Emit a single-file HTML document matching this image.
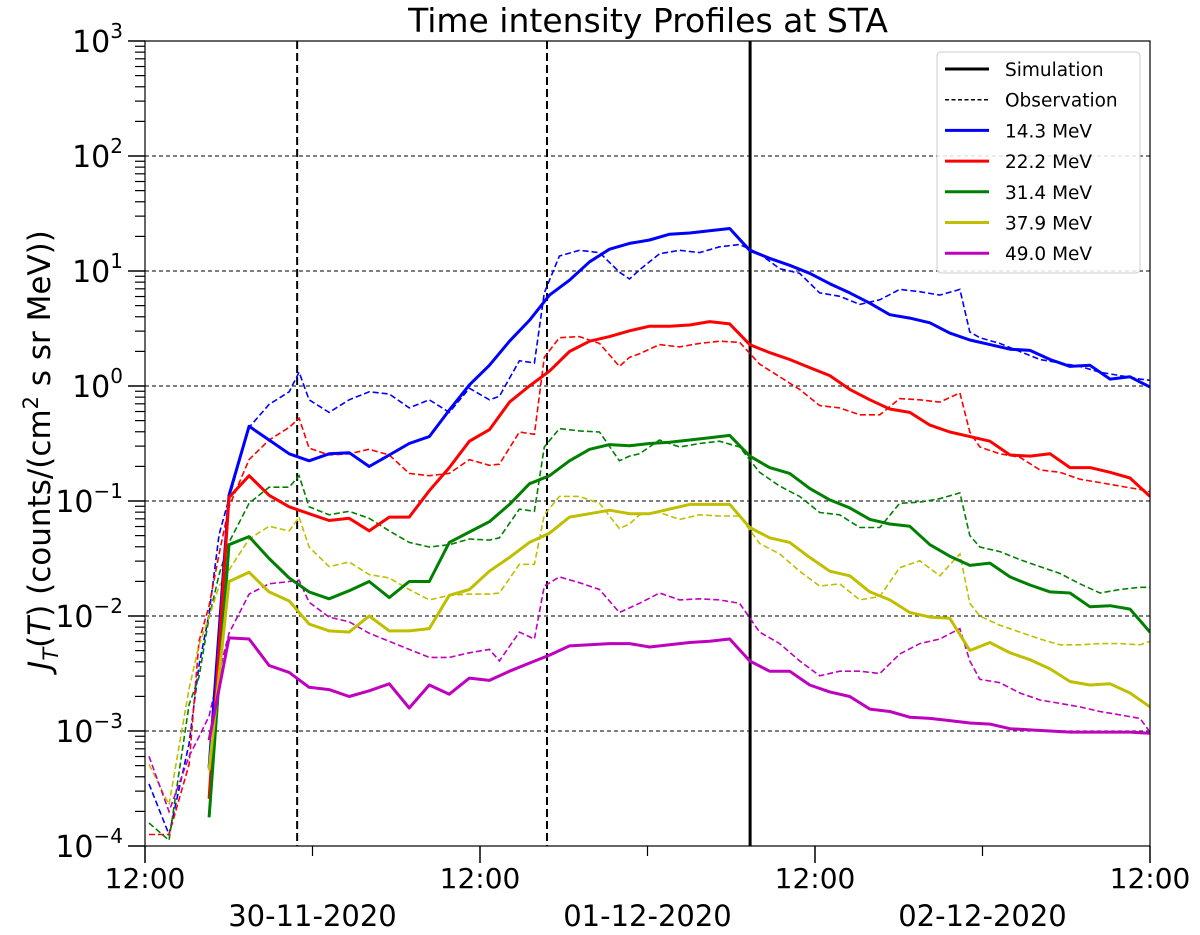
<!DOCTYPE html>
<html><head><meta charset="utf-8"><style>
html,body{margin:0;padding:0;background:#fff;}
svg{display:block;font-family:"DejaVu Sans","Liberation Sans",sans-serif;}
</style></head><body>
<svg id="chart" width="1200" height="935" viewBox="0 0 1200 935">
<defs><clipPath id="plotclip"><rect x="145" y="41" width="1005" height="805"/></clipPath></defs>
<text x="648" y="32" text-anchor="middle" font-size="33" fill="#000">Time intensity Profiles at STA</text>
<g id="grid"></g>
<g id="vlines"></g>
<g id="series" clip-path="url(#plotclip)"></g>
<rect x="145" y="41" width="1005" height="805" fill="none" stroke="#000" stroke-width="1.2"/>
<g id="yaxis"></g>
<g id="xaxis"></g>
<text transform="translate(50,450) rotate(-90)" text-anchor="middle" font-size="31" fill="#000"><tspan font-style="italic">J</tspan><tspan font-style="italic" font-size="21" dy="8">T</tspan><tspan dy="-8">(</tspan><tspan font-style="italic">T</tspan><tspan>) (counts/(cm</tspan><tspan font-size="21" dy="-12">2</tspan><tspan dy="12"> s sr MeV))</tspan></text>
<g>
<rect x="937" y="52" width="203" height="221" rx="4" fill="#fff" fill-opacity="0.85" stroke="#ccc" stroke-width="1"/>
<g id="legend-items"></g>
</g>
</svg>
<script>
// ---- data (values are log10 of J_T) ----
const simHours = [4.59,6.02,7.46,8.89,10.33,11.76,13.19,14.63,16.06,17.50,18.93,20.37,21.80,23.24,24.67,26.11,27.54,28.98,30.41,31.85,33.28,34.71,36.15,37.58,39.02,40.45,41.89,43.32,44.75,46.19,47.62,49.06,50.49,51.93,53.36,54.79,56.23,57.66,59.10,60.53,61.97,63.40,64.84,66.27,67.70,69.14,70.57,72.0];
const sim143Log10 = [-3.32,-0.95,-0.35,-0.47,-0.59,-0.65,-0.59,-0.58,-0.70,-0.60,-0.50,-0.44,-0.21,0.01,0.18,0.39,0.57,0.79,0.92,1.08,1.19,1.24,1.27,1.32,1.33,1.35,1.37,1.18,1.11,1.05,0.98,0.89,0.81,0.72,0.62,0.59,0.55,0.46,0.40,0.36,0.32,0.31,0.23,0.17,0.18,0.06,0.08,-0.01];
const sim222Log10 = [-3.59,-0.97,-0.78,-0.95,-1.05,-1.11,-1.17,-1.15,-1.26,-1.14,-1.14,-0.91,-0.71,-0.48,-0.38,-0.14,0.0,0.13,0.30,0.39,0.43,0.48,0.52,0.52,0.53,0.56,0.54,0.36,0.29,0.23,0.16,0.09,-0.03,-0.12,-0.20,-0.23,-0.34,-0.40,-0.44,-0.48,-0.60,-0.61,-0.59,-0.71,-0.71,-0.75,-0.80,-0.96];
const sim314Log10 = [-3.75,-1.38,-1.31,-1.50,-1.67,-1.79,-1.85,-1.78,-1.70,-1.84,-1.70,-1.70,-1.36,-1.27,-1.18,-1.03,-0.85,-0.78,-0.65,-0.55,-0.51,-0.52,-0.50,-0.49,-0.47,-0.45,-0.43,-0.61,-0.71,-0.76,-0.89,-0.99,-1.06,-1.16,-1.20,-1.22,-1.38,-1.48,-1.56,-1.54,-1.66,-1.73,-1.79,-1.80,-1.92,-1.91,-1.94,-2.14];
const sim379Log10 = [-3.34,-1.70,-1.62,-1.79,-1.87,-2.07,-2.13,-2.14,-2.00,-2.13,-2.13,-2.11,-1.82,-1.77,-1.61,-1.49,-1.36,-1.28,-1.14,-1.11,-1.08,-1.11,-1.11,-1.07,-1.03,-1.03,-1.03,-1.23,-1.32,-1.36,-1.49,-1.61,-1.65,-1.79,-1.86,-1.97,-2.01,-2.02,-2.30,-2.23,-2.32,-2.38,-2.46,-2.57,-2.60,-2.59,-2.67,-2.79];
const sim490Log10 = [-3.08,-2.19,-2.20,-2.43,-2.49,-2.62,-2.64,-2.70,-2.65,-2.59,-2.80,-2.60,-2.68,-2.54,-2.56,-2.48,-2.41,-2.34,-2.26,-2.25,-2.24,-2.24,-2.27,-2.25,-2.23,-2.22,-2.20,-2.39,-2.48,-2.48,-2.60,-2.66,-2.70,-2.81,-2.83,-2.88,-2.89,-2.91,-2.93,-2.94,-2.98,-2.99,-3.00,-3.01,-3.01,-3.01,-3.01,-3.02];
const obsHours = [0.29,1.72,3.16,3.87,4.59,5.31,6.02,7.46,8.89,10.33,11.04,11.76,13.19,14.63,16.06,17.50,18.93,20.37,21.80,23.24,24.67,25.39,26.82,27.90,28.61,29.69,31.12,32.56,33.99,34.71,35.43,36.86,38.30,39.73,41.16,42.60,44.03,45.47,46.90,48.34,49.77,51.20,52.64,54.07,55.51,56.94,58.38,59.09,59.81,61.24,62.68,64.11,65.55,66.98,68.42,69.85,71.28,72.0];
const obs143Log10 = [-3.46,-3.9,-3.11,-2.43,-1.98,-1.29,-0.98,-0.36,-0.16,-0.05,0.12,-0.12,-0.23,-0.12,-0.05,-0.07,-0.19,-0.12,-0.23,-0.02,-0.12,-0.09,0.22,0.20,0.81,1.13,1.18,1.16,0.99,0.93,1.01,1.15,1.18,1.16,1.21,1.23,1.15,1.02,0.98,0.81,0.78,0.71,0.75,0.84,0.82,0.79,0.84,0.47,0.42,0.37,0.30,0.23,0.20,0.17,0.12,0.09,0.06,0.05];
const obs222Log10 = [-3.9,-3.9,-3.29,-2.22,-1.91,-1.46,-1.05,-0.64,-0.47,-0.36,-0.28,-0.54,-0.60,-0.59,-0.55,-0.60,-0.76,-0.78,-0.76,-0.64,-0.69,-0.68,-0.40,-0.42,0.25,0.42,0.43,0.37,0.17,0.25,0.28,0.36,0.34,0.37,0.39,0.38,0.19,0.08,-0.03,-0.17,-0.19,-0.25,-0.25,-0.11,-0.12,-0.14,-0.06,-0.40,-0.53,-0.59,-0.62,-0.73,-0.75,-0.81,-0.84,-0.87,-0.90,-0.92];
const obs314Log10 = [-3.8,-3.95,-2.77,-2.53,-2.01,-1.64,-1.36,-1.02,-0.88,-0.88,-0.78,-1.05,-1.12,-1.09,-1.15,-1.26,-1.36,-1.40,-1.38,-1.33,-1.34,-1.32,-1.07,-1.09,-0.53,-0.37,-0.39,-0.40,-0.65,-0.61,-0.59,-0.47,-0.53,-0.50,-0.48,-0.53,-0.75,-0.87,-0.96,-1.10,-1.12,-1.23,-1.23,-1.02,-1.01,-0.98,-0.93,-1.30,-1.40,-1.44,-1.51,-1.57,-1.63,-1.72,-1.80,-1.77,-1.75,-1.75];
const obs379Log10 = [-3.29,-3.64,-2.63,-2.25,-2.01,-1.74,-1.60,-1.33,-1.22,-1.26,-1.14,-1.40,-1.57,-1.53,-1.64,-1.67,-1.77,-1.86,-1.82,-1.81,-1.81,-1.80,-1.55,-1.55,-1.12,-0.96,-0.96,-1.02,-1.24,-1.20,-1.12,-1.10,-1.16,-1.12,-1.13,-1.13,-1.37,-1.46,-1.61,-1.74,-1.72,-1.86,-1.83,-1.58,-1.52,-1.65,-1.46,-1.89,-2.00,-2.08,-2.14,-2.20,-2.25,-2.25,-2.24,-2.24,-2.25,-2.22];
const obs490Log10 = [-3.22,-3.70,-3.22,-3.05,-2.87,-2.49,-2.15,-1.81,-1.72,-1.70,-1.69,-1.88,-2.01,-2.05,-2.15,-2.22,-2.29,-2.36,-2.36,-2.32,-2.29,-2.39,-2.14,-2.20,-1.74,-1.66,-1.71,-1.77,-1.97,-1.93,-1.89,-1.80,-1.86,-1.85,-1.86,-1.89,-2.14,-2.24,-2.39,-2.52,-2.48,-2.48,-2.50,-2.33,-2.24,-2.20,-2.11,-2.39,-2.55,-2.58,-2.67,-2.73,-2.76,-2.79,-2.83,-2.86,-2.89,-3.01];
const seriesLabels = ["14.3 MeV","22.2 MeV","31.4 MeV","37.9 MeV","49.0 MeV"];
const yTickExponents = [-4,-3,-2,-1,0,1,2,3];
const xTickHours = [0,24,48,72];
const xTickLabels = ["12:00","12:00","12:00","12:00"];
const dateLabels = ["30-11-2020","01-12-2020","02-12-2020"];
const dateHours = [12,36,60];
const obsEventHours = [10.9,28.8];
const simEventHours = [43.35];

// ---- axes ----
const X0=145, X1=1150, Y0=846, Y1=41, HMAX=72, EMIN=-4, EMAX=3;
function xs(h){return X0+(h/HMAX)*(X1-X0);}
function ys(e){return Y0-(e-EMIN)/(EMAX-EMIN)*(Y0-Y1);}
const NS="http://www.w3.org/2000/svg";
function mk(tag,attrs,parent){const el=document.createElementNS(NS,tag);for(const k in attrs)el.setAttribute(k,attrs[k]);parent.appendChild(el);return el;}

const grid=document.getElementById('grid');
const yaxis=document.getElementById('yaxis');
yTickExponents.forEach(e=>{
  const y=ys(e);
  if(e>EMIN&&e<EMAX){const g=mk('line',{x1:X0,x2:X1,y1:y,y2:y,stroke:'#333','stroke-width':1.2,'stroke-dasharray':'4,3'},grid);
  
  }
  const t=mk('line',{x1:X0-17,x2:X0,y1:y,y2:y,stroke:'#000','stroke-width':1.5},yaxis);
  
  
  const lab=mk('text',{x:X0-22,y:y+11,'text-anchor':'end','font-size':30,fill:'#000'},yaxis);
  
  
  const b=document.createElementNS(NS,'tspan');b.textContent='10';lab.appendChild(b);
  const s=document.createElementNS(NS,'tspan');s.setAttribute('dy','-14');s.setAttribute('font-size','20');s.textContent=e<0?'\u2212'+(-e):String(e);lab.appendChild(s);
  if(e<EMAX){for(let m=2;m<=9;m++){const ym=ys(e+Math.log10(m));
    const mt=mk('line',{x1:X0-10,x2:X0,y1:ym,y2:ym,stroke:'#000','stroke-width':1.2},yaxis);
    
    }}
});
const xaxis=document.getElementById('xaxis');
xTickHours.forEach((h,i)=>{
  const x=xs(h);
  const t=mk('line',{x1:x,x2:x,y1:Y0,y2:Y0+17,stroke:'#000','stroke-width':1.5},xaxis);
  
  
  const l=mk('text',{x:x,y:888,'text-anchor':'middle','font-size':28,fill:'#000'},xaxis);
  l.textContent=xTickLabels[i];
  
  
});
dateHours.forEach((h,i)=>{
  const x=xs(h);
  const t=mk('line',{x1:x,x2:x,y1:Y0,y2:Y0+10,stroke:'#000','stroke-width':1.2},xaxis);
  
  
  const l=mk('text',{x:x,y:926,'text-anchor':'middle','font-size':29,fill:'#000'},xaxis);
  l.textContent=dateLabels[i];
  
  
});
const vl=document.getElementById('vlines');
obsEventHours.forEach(h=>{
  const l=mk('line',{x1:xs(h),x2:xs(h),y1:Y1,y2:Y0,stroke:'#000','stroke-width':2,'stroke-dasharray':'8,4'},vl);
  
  
});
simEventHours.forEach(h=>{
  const l=mk('line',{x1:xs(h),x2:xs(h),y1:Y1,y2:Y0,stroke:'#000','stroke-width':3},vl);
  
  
});

// ---- series ----
const colors=['#0000ff','#ff0000','#008000','#bfbf00','#bf00bf'];
const simSets=[sim143Log10,sim222Log10,sim314Log10,sim379Log10,sim490Log10];
const obsSets=[obs143Log10,obs222Log10,obs314Log10,obs379Log10,obs490Log10];
const ser=document.getElementById('series');
function pathD(hours,vals){return vals.map((v,i)=>(i?'L':'M')+xs(hours[i]).toFixed(1)+','+ys(Math.max(v,-4.3)).toFixed(1)).join('');}
obsSets.forEach((vals,i)=>{
  const p=mk('path',{d:pathD(obsHours,vals),fill:'none',stroke:colors[i],'stroke-width':1.6,'stroke-dasharray':'6,3'},ser);
  
  
});
simSets.forEach((vals,i)=>{
  const p=mk('path',{d:pathD(simHours,vals),fill:'none',stroke:colors[i],'stroke-width':3,'stroke-linejoin':'round'},ser);
  
  
});

// ---- legend ----
const lg=document.getElementById('legend-items');
const legendLabels=['Simulation','Observation'].concat(seriesLabels);
const legendColors=['#000','#000'].concat(colors);
legendLabels.forEach((lab,i)=>{
  const y=69+i*30.7;
  const ln=mk('line',{x1:945,x2:989,y1:y,y2:y,stroke:legendColors[i],'stroke-width':i===1?1.5:3},lg);
  if(i===1) ln.setAttribute('stroke-dasharray','4,2.5');
  
  
  const t=mk('text',{x:1005,y:y+7,'font-size':18.5,fill:'#000'},lg);
  t.textContent=lab;
  
  
});
</script>
</body></html>
